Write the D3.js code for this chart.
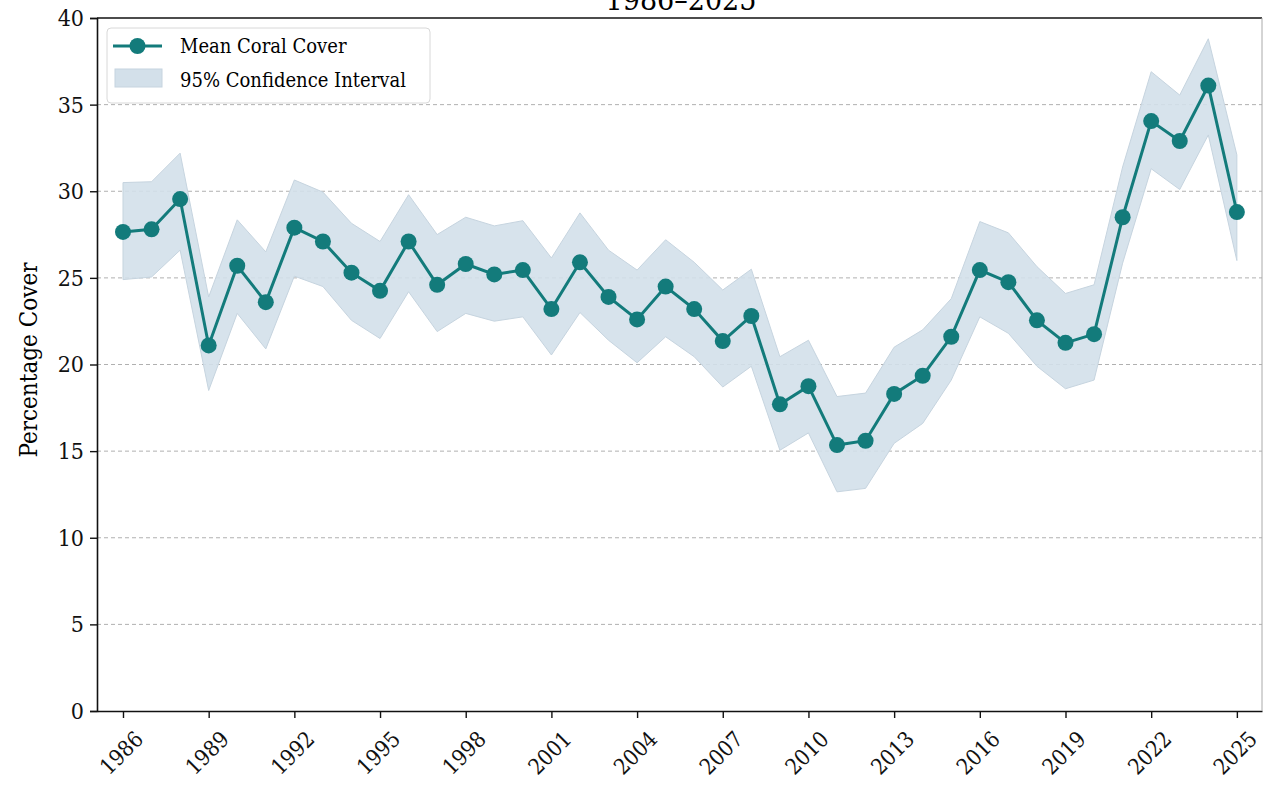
<!DOCTYPE html>
<html>
<head>
<meta charset="utf-8">
<script src="https://cdn.jsdelivr.net/npm/d3@7"></script>
<style>
  body { margin: 0; background: #fff; }
  svg { display: block; font-family: "DejaVu Serif", serif; font-stretch: condensed; }
</style>
</head>
<body>
<main></main>
<script>
// values
let years = d3.range(1986, 2026)
let meanCover = [27.65, 27.8, 29.55, 21.1, 25.7, 23.6, 27.9, 27.1, 25.3, 24.25,
    27.1, 24.6, 25.8, 25.2, 25.45, 23.2, 25.9, 23.9, 22.6, 24.5,
    23.2, 21.35, 22.8, 17.7, 18.75, 15.35, 15.6, 18.3, 19.35, 21.6,
    25.45, 24.75, 22.55, 21.25, 21.75, 28.5, 34.05, 32.9, 36.1, 28.8]
let ciUpper = [30.5, 30.55, 32.2, 23.9, 28.35, 26.5, 30.65, 29.95, 28.15, 27.1,
    29.8, 27.5, 28.5, 28.0, 28.3, 26.15, 28.75, 26.6, 25.45, 27.2,
    25.9, 24.3, 25.5, 20.45, 21.4, 18.15, 18.35, 21.0, 22.0, 23.8,
    28.25, 27.6, 25.65, 24.1, 24.6, 31.4, 36.9, 35.55, 38.8, 32.1]
let ciLower = [24.9, 25.05, 26.6, 18.5, 22.95, 20.9, 25.1, 24.5, 22.55, 21.5,
    24.2, 21.9, 22.95, 22.5, 22.75, 20.55, 23.0, 21.4, 20.1, 21.6,
    20.45, 18.7, 19.9, 15.05, 16.05, 12.65, 12.85, 15.45, 16.6, 19.1,
    22.75, 21.8, 19.9, 18.6, 19.1, 25.85, 31.3, 30.1, 33.25, 26.0]
let xTicks = [1986, 1989, 1992, 1995, 1998, 2001, 2004, 2007, 2010, 2013, 2016, 2019, 2022, 2025]
let yTicks = [0, 5, 10, 15, 20, 25, 30, 35, 40]

let teal = '#137b7b'
let band = '#d3e0ea'

let svg = d3.select('main').append('svg')
    .attr('width', 1264)
    .attr('height', 785)

let x = d3.scaleLinear().domain([1985.09, 2025.88]).range([97, 1262])
let y = d3.scaleLinear().domain([0, 40]).range([711, 18])

// title, mostly cropped off the top
svg.append('text')
    .attr('x', 681)
    .attr('y', 10)
    .attr('text-anchor', 'middle')
    .style('font-size', '30px')
    .text('1986–2025')

// grid
svg.append('g')
    .selectAll('line')
    .data(yTicks.filter(d => d > 0 && d < 40))
    .join('line')
    .attr('x1', 97).attr('x2', 1262)
    .attr('y1', d => y(d)).attr('y2', d => y(d))
    .attr('stroke', '#b0b0b0')
    .attr('stroke-width', 1)
    .attr('stroke-dasharray', '4,3')

let rows = years.map((yr, i) => ({ yr: yr, m: meanCover[i], lo: ciLower[i], hi: ciUpper[i] }))

// confidence band
svg.append('path')
    .datum(rows)
    .attr('d', d3.area().x(d => x(d.yr)).y0(d => y(d.lo)).y1(d => y(d.hi)))
    .attr('fill', band)
    .attr('fill-opacity', 0.9)
    .attr('stroke', '#c6d4df')
    .attr('stroke-width', 1)

// mean line
svg.append('path')
    .datum(rows)
    .attr('d', d3.line().x(d => x(d.yr)).y(d => y(d.m)))
    .attr('fill', 'none')
    .attr('stroke', teal)
    .attr('stroke-width', 3)

svg.append('g')
    .selectAll('circle')
    .data(rows)
    .join('circle')
    .attr('cx', d => x(d.yr))
    .attr('cy', d => y(d.m))
    .attr('r', 8)
    .attr('fill', teal)

// axes
let yAxis = svg.append('g')
    .attr('transform', 'translate(97,0)')
    .call(d3.axisLeft(y).tickValues(yTicks).tickSize(7).tickPadding(6))
yAxis.select('.domain').attr('stroke', '#111').attr('stroke-width', 1.6)
yAxis.selectAll('line').attr('stroke', '#111').attr('stroke-width', 1.4)
yAxis.selectAll('text')
    .style('font-size', '23px')
    .style('font-family', '"DejaVu Serif", serif')
    .attr('fill', '#111')

let xAxis = svg.append('g')
    .attr('transform', 'translate(0,711)')
    .call(d3.axisBottom(x).tickValues(xTicks).tickFormat(d3.format('d')).tickSize(7).tickSizeOuter(0))
xAxis.select('.domain').attr('stroke', '#111').attr('stroke-width', 1.6)
xAxis.selectAll('line').attr('stroke', '#111').attr('stroke-width', 1.4)
xAxis.selectAll('text')
    .attr('y', 0).attr('dy', 0)
    .attr('text-anchor', 'middle')
    .attr('dominant-baseline', 'central')
    .attr('transform', 'translate(-2,42) rotate(-45)')
    .style('font-size', '22px')
    .style('font-family', '"DejaVu Serif", serif')
    .attr('fill', '#111')

// top and right spines
svg.append('line')
    .attr('x1', 97).attr('x2', 1262).attr('y1', 18).attr('y2', 18)
    .attr('stroke', '#111').attr('stroke-width', 1.6)
svg.append('line')
    .attr('x1', 1262).attr('x2', 1262).attr('y1', 18).attr('y2', 711)
    .attr('stroke', '#aaa').attr('stroke-width', 1)

// y label
svg.append('text')
    .attr('transform', 'translate(29,360) rotate(-90)')
    .attr('text-anchor', 'middle')
    .attr('dominant-baseline', 'central')
    .style('font-size', '24px')
    .text('Percentage Cover')

// legend
let legend = svg.append('g')
legend.append('rect')
    .attr('x', 107).attr('y', 28)
    .attr('width', 323).attr('height', 75)
    .attr('rx', 4)
    .attr('fill', '#fff').attr('fill-opacity', 0.85)
    .attr('stroke', '#d8d8d8')
legend.append('line')
    .attr('x1', 113).attr('x2', 162).attr('y1', 46).attr('y2', 46)
    .attr('stroke', teal).attr('stroke-width', 3)
legend.append('circle')
    .attr('cx', 137.5).attr('cy', 46).attr('r', 8)
    .attr('fill', teal)
legend.append('rect')
    .attr('x', 115).attr('y', 69).attr('width', 47).attr('height', 18)
    .attr('fill', band).attr('stroke', '#c6d4df')
legend.append('text')
    .attr('x', 180).attr('y', 46)
    .attr('dominant-baseline', 'central')
    .style('font-size', '20px')
    .text('Mean Coral Cover')
legend.append('text')
    .attr('x', 180).attr('y', 80)
    .attr('dominant-baseline', 'central')
    .style('font-size', '20px')
    .text('95% Confidence Interval')
</script>
</body>
</html>
